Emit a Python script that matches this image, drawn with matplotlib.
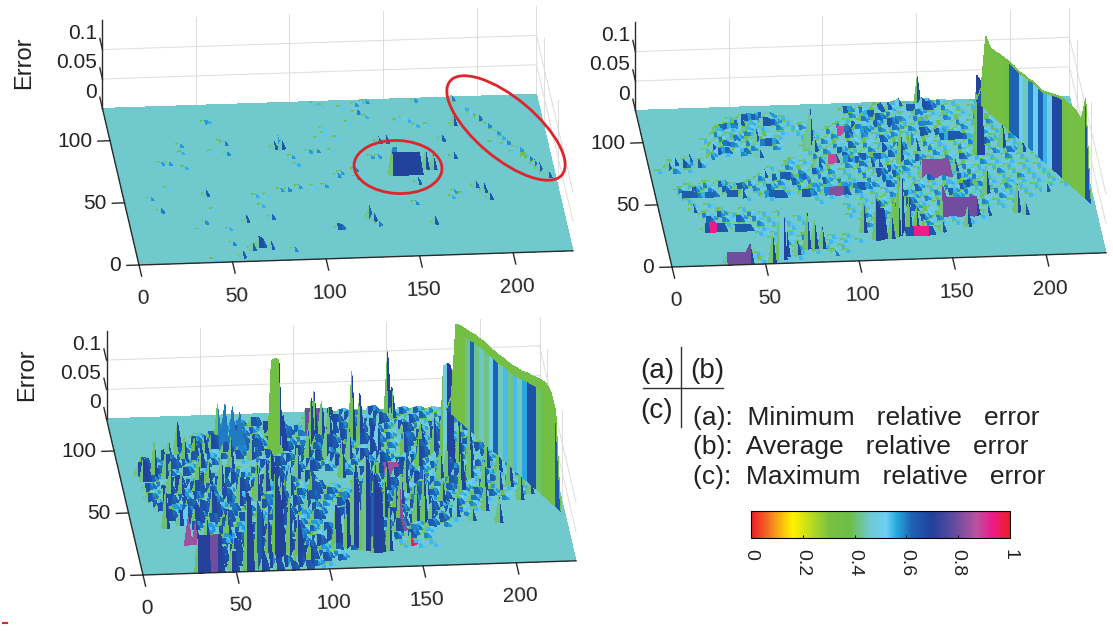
import numpy as np
import matplotlib
matplotlib.use('Agg')
import matplotlib.pyplot as plt
from matplotlib.colors import LinearSegmentedColormap, Normalize
from matplotlib.cm import ScalarMappable
from matplotlib.patches import Ellipse
from mpl_toolkits.mplot3d import proj3d

plt.rcParams['font.family'] = ['Liberation Sans', 'DejaVu Sans']

# colour scale as printed
scale_stops = [0, .05, .09, .16, .22, .3, .38, .46, .52, .56, .62, .7, .78, .87, .93, 1]
scale_cols = ['#ed1c24', '#f15a24', '#f7941d', '#fff200', '#c4df1b', '#7ac143', '#6cbe45', '#6fc9cf',
              '#6dcff6', '#27aae1', '#1c63b4', '#21409a', '#5c4b9f', '#b9539f', '#ec1c8e', '#ed1c24']
bar_ticks = [0, .2, .4, .6, .8, 1]
bar_labels = ['0', '0.2', '0.4', '0.6', '0.8', '1']

x_ticks = [0, 50, 100, 150, 200]
y_ticks = [0, 50, 100]
z_ticks = [0, .05, .1]
z_labels = ['0', '0.05', '0.1']
legend_lines = ['(a):  Minimum   relative   error', '(b):  Average   relative   error', '(c):  Maximum   relative   error']

# height levels used in the ripple maps
levels = [0, .002, .004, .007, .011, .016, .022, .03, .04, .055]

# (x, y, height)
a_spikes = [(52, 112, .003), (54, 112, .003), (88, 93, .018), (86, 91, .012), (90, 90, .014), (60, 95, .006), (58, 96, .004),
            (36, 95, .004), (37, 88, .003), (25, 81, .004), (28, 81, .004), (36, 77, .003), (60, 87, .005), (53, 88, .002),
            (25, 60, .002), (14, 52, .004), (19, 43, .006), (45, 54, .009), (47, 42, .002), (40, 33, .005), (36, 27, .002),
            (52, 26, .003), (63, 33, .012), (77, 34, .008), (72, 45, .003), (70, 52, .003), (77, 53, .002), (85, 57, .004),
            (88, 57, .005), (95, 59, .004), (102, 59, .002), (109, 58, .004), (117, 66, .005), (119, 68, .004), (126, 65, .004),
            (96, 77, .003), (95, 82, .004), (105, 87, .004), (108, 87, .005), (116, 87, .002), (115, 105, .002), (111, 97, .002),
            (115, 100, .002), (121, 97, .002), (128, 109, .002), (127, 120, .002), (112, 124, .002), (116, 122, .002),
            (135, 123, .004), (138, 124, .003), (140, 124, .005), (135, 116, .006), (138, 113, .003), (167, 125, .004),
            (155, 108, .002), (158, 111, .004), (160, 108, .003), (164, 104, .003), (170, 105, .002), (143, 92, .009),
            (146, 93, .012), (137, 81, .004), (140, 81, .004), (127, 70, .006), (165, 70, .03), (168, 70, .022), (159, 59, .01),
            (154, 43, .005), (162, 27, .012), (111, 24, .008), (113, 24, .007), (128, 33, .02), (130, 30, .012), (132, 26, .006),
            (176, 50, .004), (174, 47, .003), (181, 49, .002), (189, 55, .012), (192, 50, .014), (195, 44, .012), (180, 78, .01),
            (177, 92, .009), (184, 105, .018), (57, 4, .01), (62, 10, .012), (66, 12, .016), (68, 12, .012), (73, 11, .012),
            (84, 9, .005), (41, 2, .002), (52, 15, .005),
            (186, 124, .006), (190, 118, .004), (194, 113, .005), (198, 108, .007), (202, 102, .005), (206, 96, .004),
            (211, 88, .005), (216, 82, .004), (220, 75, .006), (225, 66, .012), (228, 60, .01), (202, 89, .002), (208, 87, .002),
            (213, 80, .002), (218, 76, .003), (188, 121, .004), (192, 116, .003), (196, 110, .004), (200, 105, .003),
            (204, 99, .003), (208, 92, .003), (214, 85, .003), (218, 79, .004), (222, 71, .008), (226, 63, .01)]
a_ridges = [(146, 160, 66, .036), (146, 148, 68, .04)]
a_paint = []

# panel (b): ripple map, one row every 4 units of y from 124 down, one char every 4 units of x
b_rows = ["................................1.2.1.3.2.1..1.1.........",
          "...........................1.2.3.2.1.24.2.1.1.1.........",
          "............1.23.3.1........2.34.2.1.3.1.2.1.1..........",
          "...........13.2.43.1.......1.3.4.32.2.1.2.1.2.1.........",
          "..........2.1.2.1.2.12....2.32.3.4.1.22.1.2.1.2.........",
          ".........2.1.21.1.1.1.1.2.4.43.2.3.2.1.21.2.1.1.1.......",
          "........1.2.3.1.2.1..1.1.2.3.2.1.2.1.4.3.2.1.2.1........",
          "........2.32.2.3.1...1.2.1.2.1.3.1.2.1.32.2.1.1.2.1.....",
          "........1.2.1.2..2...1.1.2.3.2.1.2.3.2.1.1.2.3.1.1.2....",
          "........2.1.2........1.2.3.1.2.3.4.1.2.1.2.1.1.2.1.1.1..",
          "...1.2.1..............2.1.3.2.1.3.2.1.2.1.2.1.2.3.1.2...",
          "..2.3.2...........2.1.3.1.23.2.1.2.3.1.2.3.1.1.2.1.1.1..",
          ".1.2.1..........1.2.1.2.1.2.3.1.2.3.2.1.1.1.2.1.1.1.1...",
          ".................1.2.3.2.1.2.1.3.2.1.2.1.2.1.1.1.1.1.1..",
          "..............2.3.2.1.2.1.1.2.4.3.1.2.3.1.2.1.2.1.1.1.1.",
          "....1.2.3.1.2.1.2.3.2.3.2.1.2.3.2.1.3.2.3.2.1.1.2.1.1...",
          "...2.3.2.3.4.2.3.1.2.3.2.3.1.2.3.1.2.1.2.3.2.1.2.1.1.1..",
          "...1.2.1..2..1.2.1.23.2.3.2.1.1.2.3.1.2.3.1.1.2.1.1.1.1.",
          "....1.......1..1.....1.1.1.1.1.2.3.1.2.3.2.1.2.1.1.1....",
          "....1.1..............1.....1.2.1.3.2.1.3.2.1.2.1.1......",
          "........1..1.............1.1.3.2.4.1.2.3.1.2.1.1........",
          ".....2.3.1.2.1.1.........1.1.2.1.3.1.2.1.2.1.1..........",
          "......3.2.3.2.1.1.1......1.2.3.2.1.2.1.3.1.1............",
          "........1.1.2.1.1.1.......1.3.2.1.3.2.1.1.1.............",
          "...........1.1.1.1.........2.1.2.1.2.1.1.1..............",
          "............1.1.1...........1.2.1.1.1...................",
          "..............1.1.2.1.1.1.....1.1.......................",
          "...............2.1.2.1.1.1..............................",
          "...............1.2.1.1.1................................",
          ".........1.1...1.1.1.2.1................................",
          "........2.2.1..1.1......................................",
          ".......2.2.2............................................"]
b_spikes = [(55, 113, .018), (60, 98, .022), (61, 87, .012), (88, 92, .066), (86, 92, .03), (90, 90, .02), (37, 94, .009),
            (10, 78, .014), (14, 82, .012), (18, 80, .012), (22, 84, .012), (26, 80, .012), (35, 86, .006), (143, 90, .024),
            (145, 88, .018), (135, 79, .056), (131, 120, .012), (135, 120, .012), (141, 124, .01), (150, 122, .05), (152, 120, .018),
            (90, 77, .016), (119, 77, .012), (122, 77, .01), (162, 70, .02), (176, 85, .13), (178, 85, .12), (46, 55, .015), (61, 70, .012),
            (19, 45, .012), (27, 28, .016), (60, 5, .09), (58, 5, .07), (55, 3, .045), (62, 6, .05), (69, 9, .02), (75, 12, .06), (79, 12, .045),
            (82, 12, .035), (89, 7, .006), (42, 2, .03), (112, 19, .065), (114, 19, .05), (116, 19, .05), (120, 19, .04), (124, 21, .1), (127, 22, .11),
            (122, 22, .06), (106, 24, .05), (131, 22, .06), (135, 22, .04), (139, 22, .02), (151, 34, .05), (148, 22, .016), (163, 27, .03), (175, 35, .014),
            (176, 52, .045), (191, 37, .045), (195, 34, .02), (190, 88, .04), (200, 85, .02), (209, 52, .012), (166, 120, .004),
            (126, 89, .012), (151, 111, .008)]
b_ridges = [(54, 60, 117, .009), (64, 70, 118, .006), (43, 50, 110, .006), (38, 44, 90, .008), (48, 54, 90, .006), (65, 70, 96, .008),
            (104, 110, 102, .012), (114, 119, 102, .007), (110, 114, 120, .008), (118, 120, 120, .005), (122, 128, 116, .008),
            (144, 153, 120, .008), (163, 168, 96, .01), (170, 174, 96, .006), (97, 101, 80, .012), (104, 107, 80, .009),
            (110, 116, 82, .008), (120, 127, 82, .007), (145, 159, 66, .028), (15, 20, 57, .008), (26, 32, 57, .006), (38, 47, 57, .008),
            (68, 74, 69, .009), (78, 82, 69, .006), (79, 84, 55, .01), (90, 102, 55, .012), (59, 68, 55, .009),
            (107, 114, 58, .009), (164, 169, 59, .008), (172, 175, 59, .005), (23, 32, 28, .012), (38, 46, 28, .009), (31, 43, 2, .017),
            (151, 169, 34, .03), (129, 143, 20, .012)]
# (x0, x1, y0, y1, colour value) where the picture shows plain purple, pink or green faces
b_paint = [(145, 160, 64, 66, .82), (132, 140, 18, 20, .93), (24, 28, 26, 28, .93), (104, 108, 100, 102, .88),
           (97, 101, 78, 80, .88), (151, 169, 32, 34, .8), (31, 43, 0, 2, .8), (92, 100, 53, 55, .82)]

# panel (c)
c_rows = ["...............................3.2.4.1.3.3.2.1.2.1.1....",
          "..........................34.3.4.2.4.3.1.3.2.3.1.2.1....",
          "...............3.4.5.3.2..4.3.5.4.3.5.2.4.1.3.2.1.3.....",
          "..............3.4.3.5.4.3.2.5.4.3.5.3.4.2.3.5.2.3.1.....",
          "...........3.4.3.4.2.4.5.3.4.6.3.5.4.2.5.3.4.1.4.2.3....",
          "..........4.3.5.3.4.3.5.2.4.3.5.2.6.3.2.4.5.3.2.3.1.2...",
          ".........3.4.6.3.5.4.3.4.3.5.4.3.5.4.2.5.3.4.3.2.3.2.1...",
          "........4.3.2.5.4.6.3.5.2.4.6.3.2.4.3.5.4.2.3.4.2.3.1.2.",
          "......5.3.4.3.3.4.5.4.2.5.3.4.5.3.6.2.4.3.5.2.3.4.2.1.2.",
          "....4.5.3.2.3...1.2.3.4.3.5.4.3.5.4.2.3.5.3.4.2.3.1.2.1.",
          "...6.4.5.3.4.......4.5.3.4.2.5.3.4.5.3.4.2.3.4.2.3.1.2..",
          "..6.5.3.4.3....2.3.4.3.4.5.3.3...4.3.5.4.3.5.2.3.1.2.1.1",
          "....3.....4.3.5.3.2.4.3.......3.4.5.2.4.3.2.4.3.1.2.1.2.",
          "....2.4.3.5.4.5.3.4.6.3.5.......4.3.5.4.2.3.4.2.3.1.2.1.",
          "...4.3.6.4.3.5.3.4.3.5.2.4.....3.5.2.4.5.3.2.4.1.3.2.1..",
          "...3.5.3.6.4.3.6.4.3.5.3.5.3...4.3.5.2.4.3.5.2.3.1.2.1..",
          "...4.6.3.4.3.5.3.5.3.5.4.6.4.3.3.5.4.3.5.2.4.3.1.3.1.2..",
          "...3.5.4.3.4.4.3..4.5.3.5.3.4.5.3.4.2.5.4.3.2.4.3.1.2...",
          "....4.3.5.5.3.3...4.3.5.3.2.4.4.3.5.3.4.3.5.2.3.1.2.....",
          ".....3.4.6.4.5.4..3.5.3.4....3.5.4.2.4.5.3.4.2.1........",
          ".....5.6.4.7.5.4.3.4.5.3.4..4.3.5.3.4.3.5.3.2.1.........",
          "......6.7.5.6.5.3.4.6.3.5...3.6.4.5.3.5.3.4.2...........",
          "........4.3.5.3.4.3.5.4.3....4.5.3.6.4.3.4.1............",
          ".........3.4.3.5.4.3.5.3.4...3.6.4.5.3.4.2..............",
          "..........2.3.4.3.5.3.4.2....2.5.3.6.4.2................",
          "...........3.5.4.3.5.4.3.5....2.4.3.4.2.................",
          "............3.4.5.3.6.4.5.3......2.1.1.1.................",
          "............6.5.3.4.6.5.3.4.3......1.1.1.................",
          "........7.8.6.5.4.5.7.5.3.2..............................",
          "........8.7.8.5.6.7.5.6.4.3...............................",
          "........8.8.7..5.6.5.6.3.1...............................",
          ".......8.8.8...7.6.5.5.2................................."]
c_spikes = [(84, 99, .15), (86, 99, .153), (88, 99, .15), (90, 97, .06), (129, 105, .113), (132, 103, .08), (150, 122, .107), (152, 120, .05),
            (56, 104, .065), (60, 104, .065), (64, 104, .06), (68, 104, .05), (108, 107, .078), (112, 107, .06), (116, 107, .05),
            (12, 76, .037), (14, 76, .03), (18, 78, .06), (25, 78, .04), (37, 90, .04), (18, 39, .065), (28, 25, .045), (32, 25, .04), (38, 26, .04),
            (56, 3, .13), (58, 3, .12), (62, 5, .11), (64, 5, .09), (68, 7, .085), (72, 9, .15), (74, 9, .12), (76, 9, .09), (80, 10, .11), (84, 6, .08), (86, 6, .05), (90, 4, .04),
            (123, 16, .155), (125, 16, .14), (117, 18, .125), (119, 18, .1), (112, 18, .08), (114, 18, .07), (107, 18, .07), (109, 18, .06), (128, 15, .115), (130, 15, .09), (134, 15, .07), (120, 17, .1), (126, 15, .13),
            (156, 37, .085), (153, 36, .06), (160, 36, .03), (147, 18, .02), (143, 30, .08), (188, 85, .06), (183, 82, .07), (177, 85, .165),
            (179, 85, .16), (175, 85, .16), (196, 35, .04), (211, 53, .05), (164, 98, .035), (96, 50, .03), (61, 55, .05), (82, 48, .05), (107, 102, .075),
            (72, 64, .04), (125, 66, .04), (140, 60, .05), (170, 70, .05), (200, 60, .04), (190, 45, .05), (46, 70, .04), (95, 74, .05),
            (170, 90, .06), (174, 72, .05), (180, 60, .07), (186, 70, .06), (192, 60, .05), (196, 78, .05), (202, 74, .05), (206, 62, .06), (210, 80, .04), (216, 56, .03),
            (150, 60, .06), (146, 50, .05), (132, 50, .07), (128, 45, .09), (122, 44, .05), (136, 40, .06), (142, 44, .04), (160, 48, .04), (168, 50, .04), (174, 40, .03), (182, 36, .02),
            (24, 60, .05), (30, 62, .04), (40, 68, .05), (52, 66, .06), (70, 58, .06), (76, 64, .05), (80, 72, .05), (88, 60, .05), (100, 62, .04), (30, 40, .03), (44, 44, .05),
            (50, 30, .04), (60, 25, .03), (68, 30, .05), (45, 85, .04), (60, 85, .05), (72, 90, .04), (102, 88, .05), (112, 90, .05), (125, 88, .05), (140, 95, .05), (155, 90, .04),
            (118, 75, .06), (160, 78, .05), (48, 96, .03), (28, 92, .03), (35, 100, .045), (42, 95, .03)]
c_ridges = [(31, 42, 2, .06), (105, 118, 110, .04), (138, 150, 75, .02)]
c_paint = [(82, 88, 92, 99, .35), (56, 70, 98, 104, .6), (26, 32, 22, 25, .84), (36, 40, 0, 2, .8), (105, 112, 106, 110, .8),
           (146, 150, 16, 18, .95), (140, 148, 73, 75, .84), (143, 150, 28, 30, .82)]

# wall along the back right side of (b) and (c)
wall_x = [182, 184, 186, 188, 190, 192, 194, 196, 198, 200, 202, 204, 206, 208, 210, 212, 214, 216, 218, 220, 222, 224, 226, 228, 230]
wall_y = [125, 121, 118, 114, 111, 107, 104, 100, 97, 93, 90, 86, 83, 79, 75, 72, 68, 65, 61, 58, 54, 51, 47, 44, 40]
b_wall_h = [0, .03, .124, .112, .112, .115, .115, .117, .116, .115, .116, .117, .119, .118, .119, .123, .128, .132, .136, .135, .136, .135, .128, .17, .0]
b_wall_c = [.65, .35, .33, .33, .33, .33, .36, .62, .62, .5, .45, .6, .52, .62, .55, .5, .68, .68, .36, .33, .33, .33, .33, .65]
c_wall_h = [0, .03, .159, .164, .165, .167, .17, .171, .172, .171, .171, .172, .173, .174, .176, .178, .181, .185, .188, .191, .195, .195, .188, .162, .0]
c_wall_c = [.65, .35, .33, .33, .42, .62, .42, .45, .42, .5, .62, .45, .54, .42, .54, .45, .56, .66, .66, .4, .36, .34, .34, .64]

xmax, ymax, zmax = 232, 126, .15
xg = np.arange(0, xmax + 1, 2)
yg = np.arange(0, ymax + 1, 2)

cmap = LinearSegmentedColormap.from_list('err', list(zip(scale_stops, scale_cols)))


def build_height(spikes, ridges, rows=None):
    Z = np.zeros((len(yg), len(xg)))
    if rows:
        for r, row in enumerate(rows):
            for c, ch in enumerate(row[:58]):
                if ch != '.':
                    # every other row sits one step over, so the map does not read as a lattice
                    iy, ix = (124 - 4 * r) // 2, 2 * c + r % 2
                    Z[iy, ix:ix + 2] = levels[int(ch)]
                    Z[iy + 1, ix + 1:ix + 3] = levels[max(int(ch) - 1, 0)]
    for x0, x1, y, h in ridges:
        Z[y // 2, x0 // 2:x1 // 2 + 1] = h
    for x, y, h in spikes:
        Z[y // 2, x // 2] = max(Z[y // 2, x // 2], h)
    Z[0, :] = 0  # the front edge stays on the floor
    return Z


def face_values(Z, paint):
    # faces turned left go green, turned right blue, wide faces towards the viewer darker blue
    sx = (Z[:-1, 1:] + Z[1:, 1:] - Z[:-1, :-1] - Z[1:, :-1]) / 4
    sy = (Z[1:, :-1] + Z[1:, 1:] - Z[:-1, :-1] - Z[:-1, 1:]) / 4
    tx = sx / (np.abs(sx) + .002)
    ty = sy / (np.abs(sy) + .002)
    v = .46 - .2 * np.clip(tx, 0, 1) - .12 * np.clip(tx, -1, 0) + .12 * ty + .14 * (1 - np.abs(tx)) * np.clip(ty, 0, 1)
    v = np.clip(v, .33, .74)
    for x0, x1, y0, y1, val in paint:
        v[y0 // 2:y1 // 2, x0 // 2:x1 // 2] = val
    return v


def fit_axes(ax, left_px, right_px):
    # move and scale the axes so the front edge of the floor lands on these pixels
    w, h = fig.get_size_inches() * fig.dpi
    for i in range(3):
        ax.apply_aspect()
        M = ax.get_proj()
        x0, y0, _ = proj3d.proj_transform(0, 0, 0, M)
        x1, y1, _ = proj3d.proj_transform(xmax, 0, 0, M)
        p0 = ax.transData.transform((x0, y0))
        p1 = ax.transData.transform((x1, y1))
        k = (right_px[0] - left_px[0]) / (p1[0] - p0[0])
        pos = ax.get_position()
        ax.set_position([pos.x0, pos.y0, pos.width * k, pos.height * k])
        ax.apply_aspect()
        p0 = ax.transData.transform((x0, y0))
        pos = ax.get_position()
        ax.set_position([pos.x0 + (left_px[0] - p0[0]) / w, pos.y0 + (h - left_px[1] - p0[1]) / h, pos.width, pos.height])


def label(ax, x, y, z, s, **kw):
    # flat text placed at the projected spot of a 3d point
    px, py, _ = proj3d.proj_transform(x, y, z, ax.get_proj())
    ax.text2D(px, py, s, transform=ax.transData, va='center', fontsize=15, color='#222222', **kw)


def draw_panel(pos, Z, paint, left_px, right_px, wall_h=None, wall_c=None, rim=.05):
    ax = fig.add_axes(pos, projection='3d', proj_type='ortho')
    ax.computed_zorder = False
    ax.set_xticks([])
    ax.set_yticks([])
    ax.set_zticks([])
    ax.set_axis_off()
    ax.patch.set_alpha(0)
    ax.view_init(elev=22, azim=-95)
    ax.set_xlim(0, xmax)
    ax.set_ylim(0, ymax)
    ax.set_zlim(0, zmax)
    ax.set_box_aspect((435, 419, 95))

    # back and side grid
    grid = dict(color='#dcdcdc', lw=.7, zorder=0)
    for z in z_ticks[1:]:
        ax.plot([0, xmax], [ymax, ymax], [z, z], **grid)
        ax.plot([xmax, xmax], [ymax, 0], [z, z], **grid)
    for x in x_ticks[1:]:
        ax.plot([x, x], [ymax, ymax], [0, zmax], **grid)
    for y in y_ticks[1:]:
        ax.plot([xmax, xmax], [y, y], [0, zmax], **grid)
    ax.plot([xmax, xmax], [ymax, ymax], [0, zmax], **grid)
    ax.plot([xmax, xmax], [ymax, 0], [0, 0], **grid)

    X, Y = np.meshgrid(xg, yg)
    ax.plot_surface(X, Y, Z, facecolors=cmap(face_values(Z, paint)), rstride=1, cstride=1, shade=False,
                    linewidth=0, antialiased=False, zorder=1)

    if wall_h is not None:
        wx = np.array([wall_x] * 3)
        wy = np.array([wall_y] * 3)
        hh = np.array(wall_h)
        wz = np.array([hh * 0, hh * (1 - rim), hh])
        cols = np.array([wall_c, [.34] * len(wall_c)])
        ax.plot_surface(wx, wy, wz, facecolors=cmap(cols), rstride=1, cstride=1, shade=False,
                        linewidth=0, antialiased=False, zorder=2)

    # axes lines, ticks and labels
    dark = dict(color='#2b2b2b', lw=1.0, zorder=3)
    ax.plot([0, xmax], [0, 0], [0, 0], **dark)
    ax.plot([0, 0], [0, ymax], [0, 0], **dark)
    ax.plot([0, 0], [ymax, ymax], [0, zmax], **dark)
    for x in x_ticks:
        ax.plot([x, x], [0, -9], [0, 0], **dark)
    for y in y_ticks:
        ax.plot([0, -6.5], [y, y], [0, 0], **dark)
    for z in z_ticks:
        ax.plot([0, 0], [ymax, ymax + 9], [z, z], **dark)

    fit_axes(ax, left_px, right_px)

    for x in x_ticks:
        label(ax, x - 2, -27, 0, str(x), ha='center', rotation=2)
    for y in y_ticks:
        label(ax, -9.5, y, 0, str(y), ha='right')
    for z, lab in zip(z_ticks, z_labels):
        label(ax, -1, ymax + 13, z, lab, ha='right')
    return ax


fig = plt.figure(figsize=(11.13, 6.31), dpi=100)
square = [.1, .1, .6, .6 * 1113 / 631]

draw_panel(square, build_height(a_spikes, a_ridges), a_paint, (139, 265), (573, 250))
draw_panel(square, build_height(b_spikes, b_ridges, b_rows), b_paint, (672, 267), (1106, 253), b_wall_h, b_wall_c, .02)
draw_panel(square, build_height(c_spikes, c_ridges, c_rows), c_paint, (143, 575), (576, 561), c_wall_h, c_wall_c, .08)

# everything in flat page pixels
page = fig.add_axes([0, 0, 1, 1])
page.set_xlim(0, 1113)
page.set_ylim(631, 0)
page.set_xticks([])
page.set_yticks([])
page.set_axis_off()
page.patch.set_alpha(0)

page.text(24, 63, 'Error', rotation=90, ha='center', va='center', fontsize=17, color='#222222')
page.text(27, 375, 'Error', rotation=90, ha='center', va='center', fontsize=17, color='#222222')

page.add_patch(Ellipse((398, 167), 88, 53, angle=3, fill=False, ec='#e0242c', lw=2))
page.add_patch(Ellipse((506, 128), 146, 60, angle=40, fill=False, ec='#e0242c', lw=2))
page.plot([3, 7], [623, 623], color='#e0242c', lw=1.5)

page.plot([681, 681], [347, 427], color='#333333', lw=1)
page.plot([643, 723], [388, 388], color='#333333', lw=1)
page.text(657, 371, '(a)', ha='center', va='center', fontsize=20, color='#222222')
page.text(707, 371, '(b)', ha='center', va='center', fontsize=20, color='#222222')
page.text(657, 411, '(c)', ha='center', va='center', fontsize=20, color='#222222')
for line, ty in zip(legend_lines, [418, 447, 477]):
    page.text(693, ty, line, ha='left', va='center', fontsize=19, color='#222222')

cax = fig.add_axes([751 / 1113, 1 - 538 / 631, 259 / 1113, 27 / 631])
cb = fig.colorbar(ScalarMappable(Normalize(0, 1), cmap), cax=cax, orientation='horizontal')
cb.set_ticks(bar_ticks, labels=bar_labels)
cb.ax.tick_params(direction='in', length=2, width=.7, labelsize=14, rotation=-90, labelcolor='#222222', pad=8)
cb.outline.set_linewidth(.8)

fig.savefig('out.png', dpi=100)
